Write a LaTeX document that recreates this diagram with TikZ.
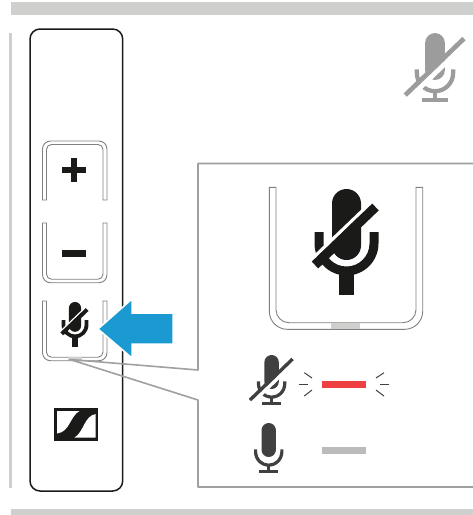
\documentclass[tikz,border=0pt]{standalone}
\usepackage{xcolor}
\usetikzlibrary{calc}
\definecolor{barGray}{HTML}{CFD0CE}
\definecolor{inkBlack}{HTML}{1A1A18}
\definecolor{lineGray}{HTML}{A0A0A0}
\definecolor{btnGray}{HTML}{808080}
\definecolor{iconDark}{HTML}{404040}
\definecolor{iconGray}{HTML}{9C9C9C}
\definecolor{arrowBlue}{HTML}{1B9AD2}
\definecolor{ledRed}{HTML}{EE4040}
\definecolor{ledGray}{HTML}{BBBBBB}
\tikzset{
  btnline/.style={draw=btnGray,fill=white,line width=0.9pt},
  callout/.style={draw=lineGray,line width=1.6pt},
  ledray/.style={draw=iconDark,line width=1pt},
  pics/micplain/.style={code={
    \fill[#1] (-14.5,-36.5) arc[start angle=180,end angle=360,radius=14.5]
      -- (14.5,5.5) arc[start angle=0,end angle=180,radius=14.5] -- cycle;
    \fill[#1] (-32,-8) -- (-32,3.5) arc[start angle=180,end angle=0,radius=32]
      -- (32,-8) -- (23,-8) -- (23,3.5) arc[start angle=0,end angle=180,radius=23]
      -- (-23,-8) -- cycle;
    \fill[#1] (-7.5,31) rectangle (7.5,55);
    \fill[white] (-34.75,21.6) -- (25.75,-36.4) -- (23.5,-38.8) -- (-37,19.2) -- cycle;
    \fill[#1] (-34.75,21.6) -- (25.75,-36.4) -- (32.25,-29.6) -- (-28.25,28.4) -- cycle;
  }},
  pics/micbase/.style={code={
    \fill[#1] (-7.2,-9.8) arc[start angle=180,end angle=360,radius=7.2]
      -- (7.2,9.8) arc[start angle=0,end angle=180,radius=7.2] -- cycle;
    \fill[#1] (-14.7,9.3) -- (-14.7,12) arc[start angle=180,end angle=0,radius=14.7]
      -- (14.7,9.3) -- (11.6,9.3) -- (11.6,12) arc[start angle=0,end angle=180,radius=11.6]
      -- (-11.6,9.3) -- cycle;
    \fill[#1] (-1.3,26) rectangle (1.3,31);
    \fill[#1] (-9.5,30) rectangle (9.5,33);
  }},
  pics/micslash/.style={code={
    \fill[white] (-20.4,29.2) -- (22.2,-11.8) -- (24.7,-9.2) -- (-17.9,31.8) -- cycle;
    \fill[#1] (-22.8,26.8) -- (19.8,-14.2) -- (22.2,-11.8) -- (-20.4,29.2) -- cycle;
  }},
}
\begin{document}
\begin{tikzpicture}[x=1pt,y=-1pt]
  \useasboundingbox (0,0) rectangle (473,515);
  \fill[barGray] (11,2) rectangle (473,15);
  \fill[barGray] (11,509) rectangle (473,515);
  \fill[barGray] (9,33) rectangle (11.5,488);

  % handset body
  \draw[draw=inkBlack,line width=1.5pt,rounded corners=10pt] (30,29) rectangle (122.7,491);

  % buttons
  \draw[btnline] (42.5,200) [rounded corners=8pt] -- (42.5,141) -- (107,141)
    [sharp corners] -- (107,200) -- (103,200) [rounded corners=5pt] -- (103,144.5)
    -- (46.5,144.5) [sharp corners] -- (46.5,200) -- cycle;
  \foreach \ytop/\ybot in {223/282.7,301/360.7}{
    \draw[btnline] (42.5,\ytop) [rounded corners=8pt] -- (42.5,\ybot) -- (107,\ybot)
      [sharp corners] -- (107,\ytop) -- (103,\ytop) [rounded corners=5pt] -- (103,\ybot-3.5)
      -- (46.5,\ybot-3.5) [sharp corners] -- (46.5,\ytop) -- cycle;
  }
  \fill[barGray] (68,357.4) rectangle (82,360.4);
  \fill[inkBlack] (62,166.7) rectangle (86,173.3);
  \fill[inkBlack] (71,158) rectangle (77,182);
  \fill[inkBlack] (62,250) rectangle (86,256.7);
  \pic[scale=0.42] at (75,323.4) {micplain=inkBlack};

  % logo
  \fill[inkBlack] (54.3,408) rectangle (98.3,440.7);
  \fill[white] (57,411) -- (79.5,411) .. controls (70,416) and (70,432) .. (57,433.5) -- cycle;
  \fill[white] (95.7,414) -- (95.7,437.7) -- (74.3,437.7) .. controls (84,432) and (84,416) .. (95.7,414) -- cycle;

  % callout frame
  \coordinate (btnTip) at (70,359.5);
  \coordinate (frameTL) at (198,163.5);
  \coordinate (frameA) at (198,370);
  \coordinate (frameB) at (198,400);
  \coordinate (frameBL) at (198,487);
  \draw[callout,line join=round] (473,163.5) -- (frameTL) -- (frameA) -- (btnTip) -- (frameB) -- (frameBL) -- (473,487);

  \fill[arrowBlue,draw=white,line width=1.5pt] (98,329) -- (132,299) -- (132,313) -- (173,313)
    -- (173,344) -- (132,344) -- (132,358) -- cycle;

  % large button in frame
  \draw[btnline] (269.3,187.3) [rounded corners=18pt] -- (269.3,329.3) -- (422.7,329.3)
    [sharp corners] -- (422.7,187.3) -- (416,187.3) [rounded corners=13pt] -- (416,322.7)
    -- (276,322.7) [sharp corners] -- (276,187.3) -- cycle;
  \fill[barGray] (331,323) rectangle (360,329);
  \pic at (346.5,240) {micplain=inkBlack};

  % status rows
  \pic[scale=1.38] at (435,56.5) {micbase=iconGray};
  \pic[scale=1.38] at (435,56.5) {micslash=iconGray};
  \pic at (271.6,372) {micbase=iconDark};
  \pic at (271.6,372) {micslash=iconDark};
  \pic at (268.7,440) {micbase=iconDark};
  \fill[ledRed] (322,381) rectangle (366,388);
  \fill[ledGray] (322,447) rectangle (366,454);
  \foreach \xa/\ya/\xb/\yb in {299/384.3/308/384.3,304.3/372.7/312/378,304.3/396/312/390,
                               380/384.3/389.3/384.3,376/378/384/372.7,376/390/384/396}{
    \draw[ledray] (\xa,\ya) -- (\xb,\yb);
  }
\end{tikzpicture}
\end{document}
